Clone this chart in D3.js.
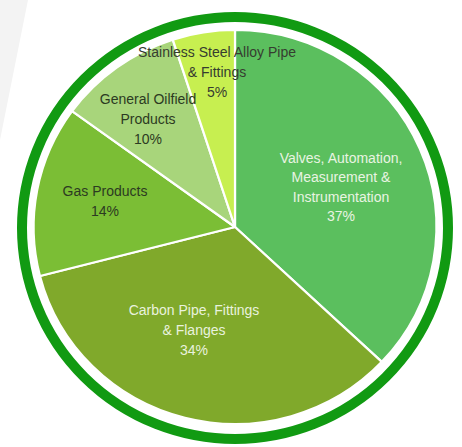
<!DOCTYPE html>
<html>
<head>
<meta charset="utf-8">
<script src="https://cdn.jsdelivr.net/npm/d3@7"></script>
<style>
  html, body { margin: 0; padding: 0; background: #fff; }
  svg { display: block; }
  text { font-family: "Liberation Sans", Arial, sans-serif; }
</style>
</head>
<body>
<svg id="chart" width="462" height="447"></svg>
<script>
// ---- data ----
const categories = [
  "Valves, Automation, Measurement & Instrumentation",
  "Carbon Pipe, Fittings & Flanges",
  "Gas Products",
  "General Oilfield Products",
  "Stainless Steel Alloy Pipe & Fittings"
];
const shares = [37, 34, 14, 10, 5];
const labelLines = [
  ["Valves, Automation,", "Measurement &", "Instrumentation"],
  ["Carbon Pipe, Fittings", "& Flanges"],
  ["Gas Products"],
  ["General Oilfield", "Products"],
  ["Stainless Steel Alloy Pipe", "& Fittings"]
];

// ---- layout / style ----
const W = 462, H = 447;
const cx = 235, cy = 227, R = 199;
const colors = ["#5bbf5e", "#80a92b", "#7bbe35", "#a8d57b", "#c7ef50"];
const textColors = ["#e9f4e2", "#e9f2de", "#2c3a22", "#2c3a22", "#363c30"];
// label centre offsets relative to the pie centre (px)
const labelOffsets = [[106, -40], [-41, 103], [-130, -26], [-87, -108], [-18, -155]];
const lineH = 19.6;

const svg = d3.select("#chart");

// faint background shape at top-left
svg.append("polygon")
  .attr("points", "0,0 28,0 0,140")
  .attr("fill", "#f3f3f3");

// outer ring
svg.append("ellipse")
  .attr("cx", cx).attr("cy", cy + 1)
  .attr("rx", 213).attr("ry", 211)
  .attr("fill", "none")
  .attr("stroke", "#119a12")
  .attr("stroke-width", 10);

const pie = d3.pie().sort(null).startAngle(0).endAngle(2 * Math.PI);
const arcs = pie(shares);
const arc = d3.arc().innerRadius(0).outerRadius(R);

const g = svg.append("g")
  .attr("transform", `translate(${cx},${cy}) scale(1.012,0.99)`);

g.selectAll("path.slice")
  .data(arcs)
  .join("path")
  .attr("class", "slice")
  .attr("d", arc)
  .attr("fill", (d, i) => colors[i])
  .attr("stroke", "#ffffff")
  .attr("stroke-width", 2.2)
  .attr("stroke-linejoin", "round");

// labels
const lg = svg.append("g").attr("transform", `translate(${cx},${cy})`);
arcs.forEach((d, i) => {
  const lines = labelLines[i].concat([shares[i] + "%"]);
  const [ox, oy] = labelOffsets[i];
  const top = oy - (lines.length - 1) * lineH / 2;
  const t = lg.append("text")
    .attr("text-anchor", "middle")
    .attr("font-size", 14)
    .attr("fill", textColors[i]);
  lines.forEach((ln, k) => {
    t.append("tspan")
      .attr("x", ox)
      .attr("y", top + k * lineH)
      .attr("dy", "0.36em")
      .text(ln);
  });
});
</script>
</body>
</html>
